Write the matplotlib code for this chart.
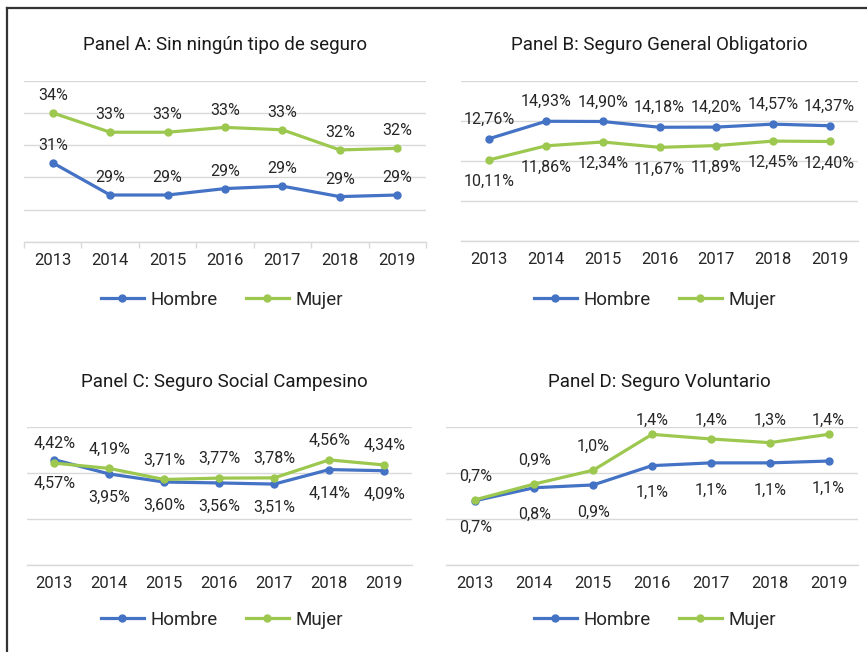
import numpy as np
import matplotlib
matplotlib.use('Agg')
import matplotlib.pyplot as plt
from matplotlib.lines import Line2D

plt.rcParams['font.family'] = ['Roboto', 'DejaVu Sans']

years = ['2013', '2014', '2015', '2016', '2017', '2018', '2019']

# Panel A: Sin ningún tipo de seguro (%)
a_hombre = [30.9, 28.9, 28.9, 29.3, 29.45, 28.8, 28.9]
a_mujer = [34.0, 32.8, 32.8, 33.1, 32.95, 31.7, 31.8]
# Panel B: Seguro General Obligatorio (%)
b_hombre = [12.76, 14.93, 14.90, 14.18, 14.20, 14.57, 14.37]
b_mujer = [10.11, 11.86, 12.34, 11.67, 11.89, 12.45, 12.40]
# Panel C: Seguro Social Campesino (%)
c_hombre = [4.57, 3.95, 3.60, 3.56, 3.51, 4.14, 4.09]
c_mujer = [4.42, 4.19, 3.71, 3.77, 3.78, 4.56, 4.34]
# Panel D: Seguro Voluntario (%)
d_hombre = [0.70, 0.84, 0.87, 1.08, 1.11, 1.11, 1.13]
d_mujer = [0.71, 0.88, 1.03, 1.42, 1.37, 1.33, 1.42]

BLUE = '#4472C4'
GREEN = '#9DC850'
GRID = '#D9D9D9'
TXT = '#262626'

W, H = 867, 652
fig = plt.figure(figsize=(W / 100, H / 100), dpi=100)


def box(x0, x1, ytop, ybot):
    # pixel box -> figure fraction
    return [x0 / W, 1 - ybot / H, (x1 - x0) / W, (ybot - ytop) / H]


def fmt(v, dec):
    return f"{v:.{dec}f}".replace('.', ',') + '%'


def panel(rect, title, tpos, hombre, mujer, ylim, step, dec, off_h, off_m,
          legpos, minor_ticks=False, top_clip=None):
    ax = fig.add_axes(box(*rect))
    x = np.arange(len(years))
    ax.plot(x, hombre, color=BLUE, lw=2.3, marker='o', ms=5, label='Hombre', zorder=3)
    ax.plot(x, mujer, color=GREEN, lw=2.3, marker='o', ms=5, label='Mujer', zorder=4)
    ax.set_xlim(-0.5, len(years) - 0.5)
    ax.set_ylim(*ylim)
    ax.set_yticks(np.arange(ylim[0], ylim[1] + step / 2, step))
    ax.yaxis.grid(True, color=GRID, lw=1)
    ax.set_axisbelow(True)
    ax.tick_params(axis='y', left=False, labelleft=False)
    ax.set_xticks(x)
    ax.set_xticklabels(years, fontsize=12, color=TXT)
    ax.tick_params(axis='x', length=0, pad=8)
    if minor_ticks:
        ax.set_xticks(np.arange(-0.5, len(years)), minor=True)
        ax.tick_params(axis='x', which='minor', length=4, color=GRID, width=1)
    for s in ['top', 'right', 'left']:
        ax.spines[s].set_visible(False)
    ax.spines['bottom'].set_color(GRID)
    ax.spines['bottom'].set_linewidth(1)

    for vals, off in ((hombre, off_h), (mujer, off_m)):
        for i, v in enumerate(vals):
            dy = off
            if top_clip is not None and off > 0:
                # labels pushed against the top of the plot area
                ytop_px = (ylim[1] - v) / (ylim[1] - ylim[0]) * (rect[3] - rect[2]) * 0.72
                dy = min(off, ytop_px + top_clip)
            ax.annotate(fmt(v, dec), (i, v), xytext=(0, dy), textcoords='offset points',
                        ha='center', va='center', fontsize=11.5, color=TXT, zorder=5)

    fig.text(tpos[0] / W, 1 - tpos[1] / H, title, ha='center', va='center',
             fontsize=13.5, color='#1a1a1a')
    ax.legend(loc='center', bbox_to_anchor=(legpos[0] / W, 1 - legpos[1] / H),
              bbox_transform=fig.transFigure, ncol=2, frameon=False, fontsize=13.5,
              handlelength=2.3, handletextpad=0.35, columnspacing=1.5,
              labelcolor=TXT)
    return ax


panel((24, 426, 80.7, 241.7), 'Panel A: Sin ningún tipo de seguro', (225, 45),
      a_hombre, a_mujer, (26, 36), 2, 0, 12.5, 12.5, (222, 300), minor_ticks=True)
panel((461, 858, 80.7, 240.7), 'Panel B: Seguro General Obligatorio', (659.5, 45),
      b_hombre, b_mujer, (0, 20), 5, 2, 14, -15.5, (655, 300))
panel((26.7, 411.7, 426.7, 565), 'Panel C: Seguro Social Campesino', (224.7, 381.7),
      c_hombre, c_mujer, (0, 6), 2, 2, -17, 14, (222, 620))
panel((446, 858, 427, 565), 'Panel D: Seguro Voluntario', (659.7, 381.7),
      d_hombre, d_mujer, (0, 1.5), 0.5, 1, -19.5, 17, (655, 620), top_clip=4.5)

# outer frame (top and left edges only)
fig.add_artist(Line2D([6.5 / W, 1], [1 - 8 / H, 1 - 8 / H], transform=fig.transFigure,
                      color='#333333', lw=1.6))
fig.add_artist(Line2D([6.5 / W, 6.5 / W], [0, 1 - 8 / H], transform=fig.transFigure,
                      color='#333333', lw=1.6))

fig.savefig('out.png', dpi=100, facecolor='white')
